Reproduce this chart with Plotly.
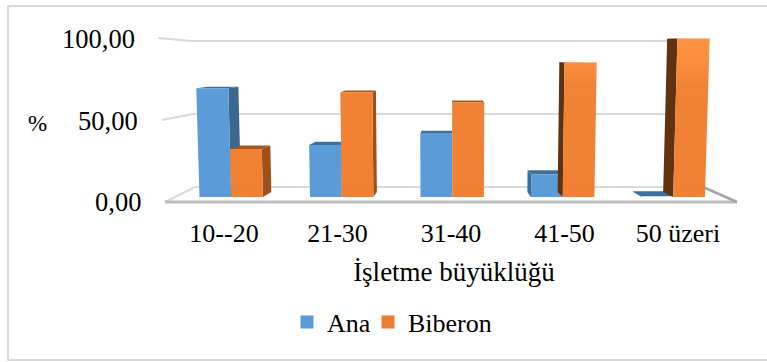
import plotly.graph_objects as go

categories = ["10--20", "21-30", "31-40", "41-50", "50 üzeri"]
ana = [68.0, 32.5, 39.5, 14.0, 0.4]
biberon = [30.0, 65.5, 59.0, 84.0, 99.0]
y_ticks = [0, 50, 100]
y_tick_labels = ["0,00", "50,00", "100,00"]

FONT = "Liberation Serif"
FS = 26
W, H = 767, 362
L, R, T, B = 150, 758, 20, 215
TICK0, TICKSTEP = 224.0, 113.5      # label plane
PXY0, PXYU = 197.0, 1.6             # bar front plane

def ax(px):
    return (px - TICK0) / TICKSTEP
def ay(py):
    return (PXY0 - py) / PXYU
x_range = [ax(L), ax(R)]
y_range = [ay(B), ay(T)]

fig = go.Figure()

def line(xs, ys, color, width):
    fig.add_trace(go.Scatter(x=[ax(p) for p in xs], y=[ay(p) for p in ys], mode="lines",
                             line=dict(color=color, width=width), showlegend=False,
                             hoverinfo="skip"))

# walls and floor, derived from the tick values
for v in y_ticks:
    f = v / 100
    yf = 202 - 164 * f
    yb = 187 - 146 * f
    xf = 165 - 7 * f
    xb = 195 - 3 * f
    xe = 703 + 7 * f
    line([xf, xb, xe], [yf, yb, yb], "#dadada", 2.2)
line([165, 737], [202, 202], "#bdbdbd", 3)
line([703, 737], [187, 202], "#a6a6a6", 2.5)

CENTER_X, TOP_Y = 450.0, 40.0
KX, KY, TILT = 0.045, 0.032, 0.019
GROUP0, GROUPSTEP, BARW = 199.5, 110.5, 31.7

def poly(pts, color=None, gradient=None):
    xs = [ax(p[0]) for p in pts] + [ax(pts[0][0])]
    ys = [ay(p[1]) for p in pts] + [ay(pts[0][1])]
    kw = dict(fillgradient=gradient) if gradient else dict(fillcolor=color)
    fig.add_trace(go.Scatter(x=xs, y=ys, mode="lines", line=dict(width=0),
                             fill="toself", showlegend=False, hoverinfo="skip", **kw))

def back(px, py):
    return (px - KX * (px - CENTER_X), py - KY * (py - TOP_Y))

def bar(x0, x1, v, front, top, side_r, side_l):
    yt = PXY0 - PXYU * v
    fr = v / 100
    bl = (x0, PXY0); br = (x1, PXY0)
    tl = (x0 + TILT * (x0 - CENTER_X) * fr, yt)
    tr = (x1 + TILT * (x1 - CENTER_X) * fr, yt)
    if x1 < CENTER_X - 5:
        poly([br, tr, back(*tr), back(*br)], side_r)
    if x0 > CENTER_X + 5:
        poly([bl, tl, back(*tl), back(*bl)], side_l)
    poly([tl, tr, back(*tr), back(*tl)], top)
    if isinstance(front, dict):
        poly([bl, br, tr, tl], gradient=front)
    else:
        poly([bl, br, tr, tl], front)

orange_grad = dict(type="vertical", start=0, stop=100,
                   colorscale=[[0, "#F08034"], [0.7, "#F28235"], [0.85, "#FC8E3E"], [1, "#FF9443"]])
for i in range(len(categories)):
    x0 = GROUP0 + GROUPSTEP * i
    bar(x0, x0 + BARW, ana[i], "#5B9BD7", "#3F6F9E", "#3A6890", "#3D6C99")
    bar(x0 + BARW, x0 + 2 * BARW, biberon[i], orange_grad, "#A9561C", "#9E4F1A", "#60320F")

# legend entries
fig.add_trace(go.Scatter(x=[None], y=[None], mode="markers", name="Ana", legend="legend",
                         marker=dict(symbol="square", size=13, color="#5B9BD5")))
fig.add_trace(go.Scatter(x=[None], y=[None], mode="markers", name="Biberon", legend="legend2",
                         marker=dict(symbol="square", size=13, color="#ED7D31")))

ann = []
for v, t in zip(y_ticks, y_tick_labels):
    px = 143 - 0.06 * v
    py = 202 - 1.63 * v
    ann.append(dict(text=t, xref="paper", yref="y", x=(px - L) / (R - L), y=ay(py),
                    xanchor="right", yanchor="middle", showarrow=False,
                    font=dict(family=FONT, size=FS + 0.5, color="black")))
ann.append(dict(text="%", xref="paper", yref="y", x=(37 - L) / (R - L), y=ay(123),
                xanchor="center", yanchor="middle", showarrow=False,
                font=dict(family=FONT, size=23, color="black")))

def legend_at(px):
    return dict(orientation="h", x=(px - L) / (R - L), y=(H - 322 - (H - B)) / (B - T),
                xanchor="left", yanchor="middle", bgcolor="rgba(0,0,0,0)",
                font=dict(family=FONT, size=FS, color="black"))

fig.update_layout(
    width=W, height=H, margin=dict(l=L, r=W - R, t=T, b=H - B, pad=0, autoexpand=False),
    paper_bgcolor="white", plot_bgcolor="white",
    font=dict(family=FONT, size=FS, color="black"),
    showlegend=True,
    xaxis=dict(range=x_range, tickmode="array", tickvals=list(range(len(categories))),
               ticktext=categories, showgrid=False, zeroline=False, showline=False,
               ticks="", tickfont=dict(family=FONT, size=FS, color="black"), automargin=False,
               title=dict(text="İşletme büyüklüğü", standoff=15,
                          font=dict(family=FONT, size=27, color="black"))),
    yaxis=dict(range=y_range, showgrid=False, zeroline=False, showline=False,
               showticklabels=False, ticks="", automargin=False),
    legend=legend_at(287),
    legend2=legend_at(368),
    annotations=ann,
    shapes=[dict(type="rect", xref="paper", yref="paper",
                 x0=(8 - L) / (R - L), x1=(800 - L) / (R - L),
                 y0=(B - 360) / (B - T), y1=(B - 6) / (B - T),
                 line=dict(color="#d9d9d9", width=2), fillcolor="rgba(0,0,0,0)", layer="below")],
)
fig.write_html("out.html", config=dict(displayModeBar=False),
               post_script="document.body.style.margin='0';")
